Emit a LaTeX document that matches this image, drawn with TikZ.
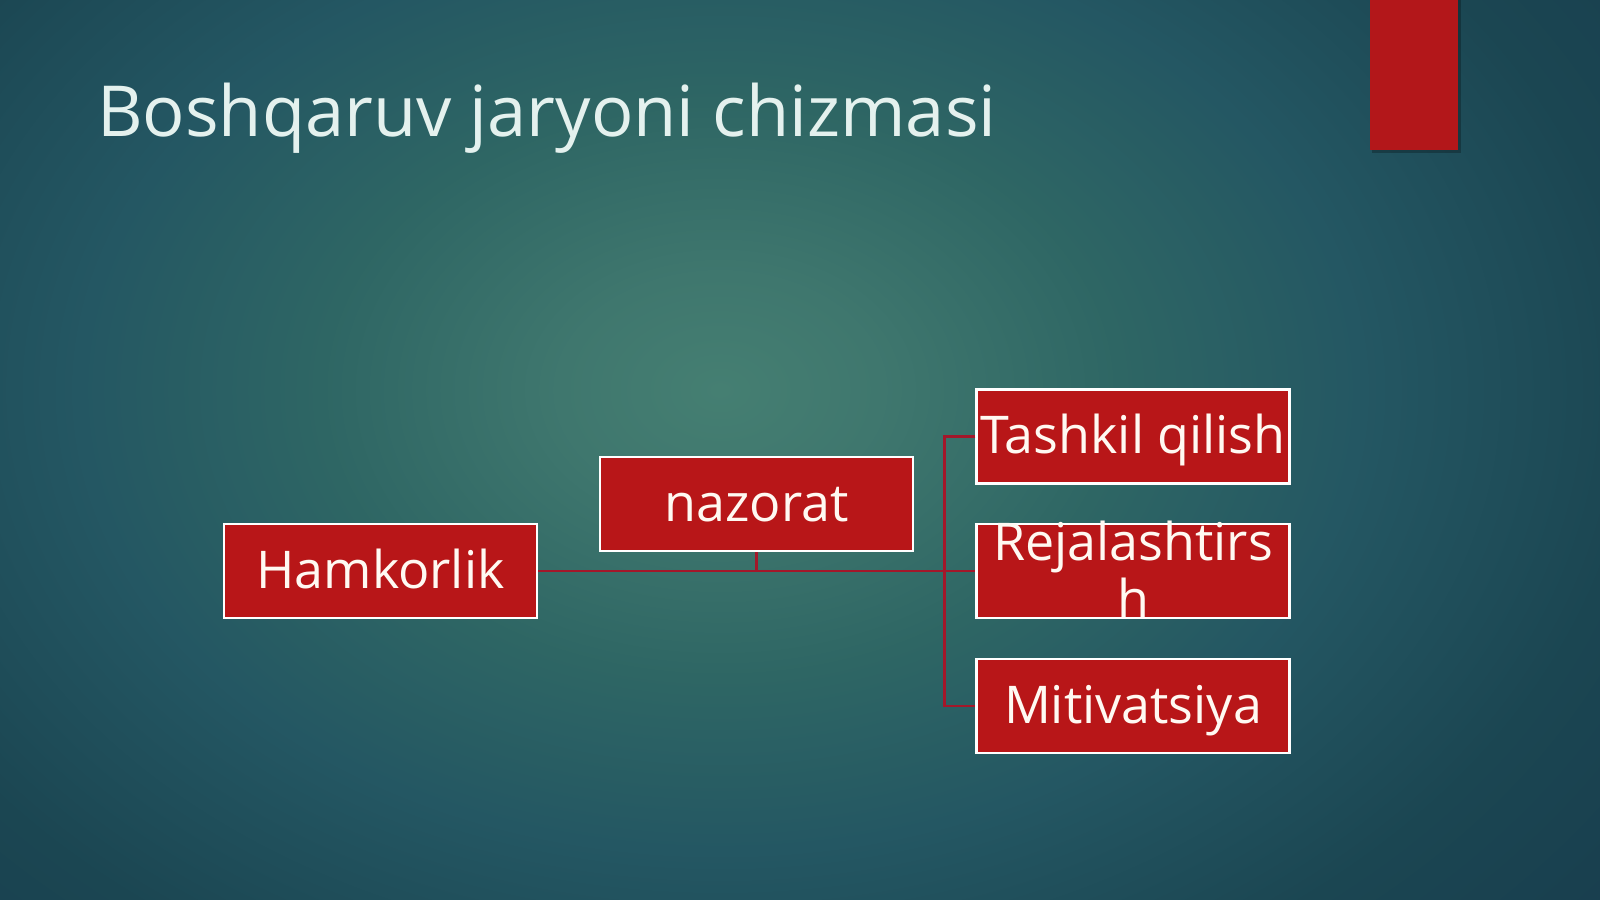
\documentclass[tikz,border=0pt]{standalone}
\usepackage{fontspec}
\setmainfont{Open Sans}
\definecolor{bgA}{HTML}{457F72}
\definecolor{bgB}{HTML}{3F776E}
\definecolor{bgC}{HTML}{2E6664}
\definecolor{bgD}{HTML}{245763}
\definecolor{bgE}{HTML}{1B4652}
\definecolor{bgF}{HTML}{16374B}
\definecolor{boxred}{HTML}{B81618}
\definecolor{barred}{HTML}{B3171A}
\definecolor{connred}{HTML}{A3172A}
\definecolor{titlecol}{HTML}{E4F1EE}
\definecolor{txtcol}{HTML}{FFF9F2}
\pgfdeclareradialshading{bgshade}{\pgfpoint{0bp}{0bp}}{color(0bp)=(bgA); color(4bp)=(bgB); color(10bp)=(bgC); color(16bp)=(bgD); color(23bp)=(bgE); color(34bp)=(bgF); color(50bp)=(bgF)}
\tikzset{
  box/.style={draw=white, line width=2.2pt, fill=boxred, minimum width=313pt,
    minimum height=94pt, inner sep=0pt, text=txtcol,
    font=\fontsize{52}{57}\selectfont, text height=34pt, text depth=0pt},
  boxtxt/.style={inner sep=0pt, text=txtcol, font=\fontsize{52}{57}\selectfont},
  conn/.style={draw=connred, line width=2.4pt},
  titlestyle/.style={inner sep=0pt, text=titlecol, font=\fontsize{70.4}{80}\selectfont}
}
\begin{document}
\begin{tikzpicture}[x=1pt,y=-1pt]
\useasboundingbox (0,0) rectangle (1600,899);
\begin{scope}
  \clip (0,0) rectangle (1600,899);
  \shade[shading=bgshade] (-280,-330) rectangle (1720,1110);
\end{scope}
% decorative bar
\fill[black, opacity=0.25] (1372,0) rectangle (1461,153);
\fill[barred] (1370,0) rectangle (1458,150);
% title
\node[titlestyle, anchor=base west] (title) at (97,136) {Boshqaruv jaryoni chizmasi};
% boxes
\node[box] (ham) at (380.5,571) {Hamkorlik};
\node[box] (naz) at (756.5,504) {nazorat};
\node[box] (tash) at (1133,436.5) {Tashkil qilish};
\node[box] (rej) at (1133,571) {};
\node[boxtxt, align=center, anchor=north] (rejtxt) at (1133,521) {Rejalashtirs\\h};
\node[box] (mit) at (1133,706) {Mitivatsiya};
% connectors
\draw[conn] (ham.east) -- (rej.west);
\draw[conn] (naz.south) -- (naz.south |- ham.east);
\draw[conn] (tash.west) -- ++(-31,0) |- (mit.west);
\end{tikzpicture}
\end{document}
